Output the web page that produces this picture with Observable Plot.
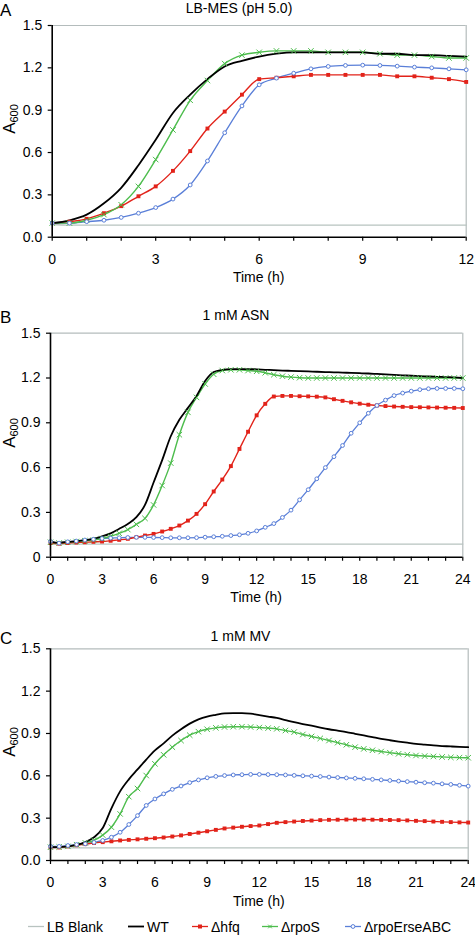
<!DOCTYPE html>
<html><head><meta charset="utf-8">
<script src="https://cdn.jsdelivr.net/npm/d3@7"></script>
<script src="https://cdn.jsdelivr.net/npm/@observablehq/plot@0.6"></script>
<style>
body{margin:0;background:#fff;font-family:"Liberation Sans",Arial,Helvetica,sans-serif;color:#000;}
#root{position:relative;width:475px;height:935px;overflow:hidden;}
.abs{position:absolute;white-space:nowrap;line-height:1;}
.panel{position:absolute;left:0;}
.ttl{font-size:14px;transform:translate(-50%,-50%);}
.let{font-size:17px;transform:translateY(-50%);}
.xl{font-size:14px;transform:translate(-50%,-50%);}
.yl{font-size:17px;transform:translate(-50%,-50%) rotate(-90deg);}
.yl sub{font-size:11px;vertical-align:-3px;}
.leg{font-size:14px;display:flex;align-items:center;transform:translateY(-50%);}
.leg svg{margin-right:3px;}
</style></head><body><div id="root"></div><script>
// ---------- categories / series names ----------
const seriesNames = ["LB Blank", "WT", "\u0394hfq", "\u0394rpoS", "\u0394rpoErseABC"];
const panelTitles = ["LB-MES (pH 5.0)", "1 mM ASN", "1 mM MV"];
const panelLetters = ["A", "B", "C"];

// ---------- tick labels ----------
const yTicks = [0, 0.3, 0.6, 0.9, 1.2, 1.5];
const xTicksA = [0,1,2,3,4,5,6,7,8,9,10,11,12];
const xTicksBC = [0,1,2,3,4,5,6,7,8,9,10,11,12,13,14,15,16,17,18,19,20,21,22,23,24];

// ---------- time points (h) ----------
const timesA = [0,0.5,1,1.5,2,2.5,3,3.5,4,4.5,5,5.5,6,6.5,7,7.5,8,8.5,9,9.5,10,10.5,11,11.5,12];
const timesBC = [0,0.5,1,1.5,2,2.5,3,3.5,4,4.5,5,5.5,6,6.5,7,7.5,8,8.5,9,9.5,10,10.5,11,11.5,12,
  12.5,13,13.5,14,14.5,15,15.5,16,16.5,17,17.5,18,18.5,19,19.5,20,20.5,21,21.5,22,22.5,23,23.5,24];

// ---------- Panel A: LB-MES (pH 5.0) ----------
const blankA = [0.09,0.085,0.085,0.085,0.085,0.085,0.085,0.085,0.085,0.085,0.085,0.085,0.085,0.085,0.085,0.085,0.085,0.085,0.085,0.085,0.085,0.085,0.085,0.085,0.085];
const wtA   = [0.10,0.12,0.16,0.24,0.35,0.51,0.69,0.88,1.01,1.12,1.21,1.25,1.28,1.30,1.31,1.31,1.31,1.31,1.31,1.30,1.30,1.29,1.29,1.285,1.28];
const hfqA  = [0.10,0.11,0.13,0.17,0.22,0.29,0.36,0.47,0.61,0.77,0.89,1.01,1.12,1.13,1.14,1.15,1.15,1.15,1.15,1.15,1.14,1.14,1.13,1.12,1.10];
const rpoSA = [0.10,0.10,0.12,0.16,0.23,0.36,0.55,0.76,0.97,1.11,1.23,1.29,1.31,1.32,1.32,1.32,1.31,1.31,1.31,1.30,1.29,1.29,1.28,1.27,1.27];
const erseA = [0.10,0.10,0.11,0.12,0.14,0.17,0.21,0.27,0.37,0.54,0.74,0.93,1.08,1.127,1.162,1.193,1.21,1.217,1.219,1.217,1.212,1.205,1.20,1.193,1.186];

// ---------- Panel B: 1 mM ASN ----------
const blankB = [0.088,0.088,0.088,0.088,0.088,0.088,0.088,0.088,0.088,0.088,0.088,0.088,0.088,0.088,0.088,0.088,0.088,0.088,0.088,0.088,0.088,0.088,0.088,0.088,0.088,
  0.088,0.088,0.088,0.088,0.088,0.088,0.088,0.088,0.088,0.088,0.088,0.088,0.088,0.088,0.088,0.088,0.088,0.088,0.088,0.088,0.088,0.088,0.088,0.088];
const wtB   = [0.105,0.097,0.103,0.107,0.114,0.125,0.14,0.16,0.19,0.223,0.268,0.35,0.50,0.65,0.81,0.92,1.00,1.08,1.18,1.24,1.255,1.26,1.26,1.26,1.258,
  1.255,1.253,1.25,1.248,1.246,1.244,1.242,1.24,1.238,1.236,1.234,1.232,1.23,1.227,1.224,1.221,1.218,1.215,1.213,1.21,1.208,1.206,1.204,1.20];
const hfqB  = [0.095,0.09,0.095,0.098,0.10,0.103,0.105,0.11,0.116,0.123,0.134,0.145,0.156,0.172,0.19,0.212,0.245,0.29,0.355,0.44,0.52,0.61,0.725,0.84,0.95,
  1.027,1.076,1.08,1.08,1.078,1.077,1.075,1.07,1.058,1.047,1.037,1.028,1.021,1.016,1.012,1.009,1.007,1.005,1.004,1.003,1.002,1.001,1.0,0.999];
const rpoSB = [0.10,0.095,0.10,0.105,0.11,0.115,0.125,0.14,0.16,0.185,0.22,0.26,0.35,0.48,0.63,0.82,0.97,1.07,1.16,1.225,1.25,1.255,1.255,1.25,1.245,
  1.235,1.222,1.212,1.206,1.202,1.20,1.20,1.20,1.20,1.20,1.20,1.20,1.20,1.20,1.20,1.20,1.20,1.20,1.20,1.20,1.20,1.20,1.20,1.20];
const erseB = [0.105,0.094,0.103,0.108,0.115,0.12,0.125,0.128,0.13,0.132,0.133,0.133,0.132,0.131,0.13,0.13,0.13,0.131,0.134,0.137,0.14,0.145,0.15,0.16,0.176,
  0.20,0.225,0.266,0.315,0.384,0.452,0.525,0.60,0.673,0.748,0.83,0.90,0.964,1.016,1.052,1.082,1.099,1.112,1.122,1.128,1.13,1.13,1.13,1.128];

// ---------- Panel C: 1 mM MV ----------
const blankC = [0.09,0.09,0.09,0.09,0.09,0.09,0.09,0.09,0.09,0.09,0.09,0.09,0.09,0.09,0.09,0.09,0.09,0.09,0.09,0.09,0.09,0.09,0.09,0.09,0.09,
  0.09,0.09,0.09,0.09,0.09,0.09,0.09,0.09,0.09,0.09,0.09,0.09,0.09,0.09,0.09,0.09,0.09,0.09,0.09,0.09,0.09,0.09,0.09,0.09];
const wtC   = [0.094,0.096,0.10,0.11,0.13,0.165,0.23,0.37,0.49,0.575,0.645,0.715,0.78,0.83,0.885,0.93,0.97,1.0,1.02,1.032,1.042,1.044,1.044,1.04,1.03,
  1.02,1.01,0.995,0.98,0.967,0.955,0.942,0.93,0.92,0.91,0.898,0.886,0.874,0.862,0.852,0.843,0.835,0.827,0.821,0.815,0.811,0.808,0.805,0.803];
const hfqC  = [0.094,0.092,0.10,0.108,0.116,0.124,0.13,0.136,0.142,0.146,0.15,0.154,0.158,0.163,0.17,0.178,0.188,0.197,0.207,0.217,0.227,0.233,0.239,0.244,0.248,
  0.258,0.267,0.272,0.276,0.28,0.283,0.286,0.288,0.289,0.29,0.29,0.29,0.289,0.288,0.287,0.286,0.284,0.281,0.279,0.276,0.274,0.272,0.27,0.269];
const rpoSC = [0.094,0.096,0.10,0.112,0.125,0.143,0.18,0.236,0.33,0.452,0.51,0.602,0.685,0.749,0.803,0.85,0.888,0.913,0.93,0.94,0.946,0.948,0.948,0.946,0.942,
  0.938,0.933,0.921,0.91,0.893,0.879,0.865,0.85,0.835,0.82,0.803,0.791,0.781,0.772,0.764,0.756,0.75,0.744,0.74,0.737,0.734,0.731,0.729,0.728];
const erseC = [0.10,0.10,0.106,0.113,0.118,0.128,0.142,0.165,0.20,0.255,0.318,0.39,0.436,0.472,0.504,0.528,0.552,0.571,0.586,0.596,0.602,0.606,0.608,0.61,0.61,
  0.609,0.608,0.606,0.603,0.6,0.598,0.595,0.591,0.588,0.585,0.582,0.579,0.575,0.571,0.567,0.563,0.559,0.555,0.551,0.548,0.543,0.539,0.533,0.527];

// ---------- styles ----------
const FONT = '"Liberation Sans", Arial, Helvetica, sans-serif';
const C = {blank: "#b8c3c0", wt: "#000000", hfq: "#e2231a", rpoS: "#4dbd4d", erse: "#5a7fd8"};
const FRAME = "#b4bcbc";

const root = document.getElementById("root");
function addDiv(cls, html, left, top) {
  const d = document.createElement("div");
  d.className = "abs " + cls;
  d.innerHTML = html;
  d.style.left = left + "px";
  d.style.top = top + "px";
  root.appendChild(d);
  return d;
}

function makePanel(cfg) {
  const {times, blank, wt, hfq, rpoS, erse, xMax, xTicks, yFmt, top, height, mt, mb, ml, mr, idx} = cfg;
  const curve = "monotone-x";
  const chart = Plot.plot({
    width: 475, height,
    marginTop: mt, marginBottom: mb, marginLeft: ml, marginRight: mr,
    style: {fontFamily: FONT, fontSize: "14px", color: "#000", background: "transparent", overflow: "visible"},
    x: {domain: [0, xMax]},
    y: {domain: [0, 1.5]},
    marks: [
      Plot.ruleY([1.5], {stroke: FRAME, strokeWidth: 1.2}),
      Plot.ruleX([xMax], {stroke: FRAME, strokeWidth: 1.2}),
      Plot.axisY({ticks: yTicks, tickFormat: yFmt, tickSize: 4, tickPadding: 6, label: null, stroke: "#000", strokeWidth: 1.2}),
      Plot.axisX({ticks: xTicks, tickFormat: d => (d % 3 === 0 ? String(d) : ""), tickSize: 4, tickPadding: 12.5, label: null, stroke: "#000", strokeWidth: 1.2}),
      Plot.line(times, {x: times, y: blank, stroke: C.blank, strokeWidth: 1.3, curve}),
      Plot.line(times, {x: times, y: erse, stroke: C.erse, strokeWidth: 1.3, curve}),
      Plot.line(times, {x: times, y: hfq, stroke: C.hfq, strokeWidth: 1.4, curve}),
      Plot.line(times, {x: times, y: rpoS, stroke: C.rpoS, strokeWidth: 1.4, curve}),
      Plot.line(times, {x: times, y: wt, stroke: C.wt, strokeWidth: 1.8, curve}),
      Plot.dot(times, {x: times, y: hfq, symbol: "square", fill: C.hfq, r: 2.2}),
      Plot.dot(times, {x: times, y: rpoS, symbol: "times", stroke: C.rpoS, strokeWidth: 1, r: 2.6}),
      Plot.dot(times, {x: times, y: erse, symbol: "circle", fill: "#fff", stroke: C.erse, strokeWidth: 1, r: 1.9}),
      Plot.ruleX([0], {stroke: "#000", strokeWidth: 1.6}),
      Plot.ruleY([0], {stroke: "#000", strokeWidth: 1.6})
    ]
  });
  const wrap = document.createElement("div");
  wrap.className = "panel";
  wrap.style.top = top + "px";
  wrap.appendChild(chart);
  root.appendChild(wrap);
  // text around the panel
  const plotTop = top + mt, plotBottom = top + height - mb;
  const cx = (ml + 475 - mr) / 2;
  addDiv("ttl", panelTitles[idx], cfg.titleX, cfg.titleY);
  addDiv("let", panelLetters[idx], 0, cfg.letterY);
  addDiv("xl", "Time (h)", cx, plotBottom + 40.5);
  addDiv("yl", "A<sub>600</sub>", 10, (plotTop + plotBottom) / 2 - 12);
}

const f1 = d => d.toFixed(1);
const fB = d => (d === 0 ? "0" : d.toFixed(1));

makePanel({idx: 0, times: timesA, blank: blankA, wt: wtA, hfq: hfqA, rpoS: rpoSA, erse: erseA,
  xMax: 12, xTicks: xTicksA, yFmt: f1, top: 0, height: 300, mt: 25, mb: 63.3, ml: 51.7, mr: 9.3,
  titleX: 239, titleY: 8, letterY: 9.5});
makePanel({idx: 1, times: timesBC, blank: blankB, wt: wtB, hfq: hfqB, rpoS: rpoSB, erse: erseB,
  xMax: 24, xTicks: xTicksBC, yFmt: fB, top: 300, height: 310, mt: 32.7, mb: 53.3, ml: 50, mr: 12.7,
  titleX: 236, titleY: 315, letterY: 316.5});
makePanel({idx: 2, times: timesBC, blank: blankC, wt: wtC, hfq: hfqC, rpoS: rpoSC, erse: erseC,
  xMax: 24, xTicks: xTicksBC, yFmt: f1, top: 610, height: 300, mt: 38.3, mb: 50, ml: 50, mr: 7.3,
  titleX: 240.5, titleY: 636, letterY: 638});

// ---------- legend ----------
const legendX = [28, 128, 192, 262, 345];
const legendKeys = ["blank", "wt", "hfq", "rpoS", "erse"];
function swatch(key) {
  const col = C[key];
  const sw = key === "wt" ? 1.8 : 1.3;
  let m = "";
  if (key === "hfq") m = `<rect x="6" y="3.5" width="4" height="4" fill="${col}"/>`;
  if (key === "rpoS") m = `<path d="M6.2 3.7 L9.8 7.3 M9.8 3.7 L6.2 7.3" stroke="${col}" stroke-width="1"/>`;
  if (key === "erse") m = `<circle cx="8" cy="5.5" r="1.9" fill="#fff" stroke="${col}" stroke-width="1"/>`;
  return `<svg width="16" height="11" viewBox="0 0 16 11"><line x1="0" y1="5.5" x2="16" y2="5.5" stroke="${col}" stroke-width="${sw}"/>${m}</svg>`;
}
legendKeys.forEach((k, i) => {
  addDiv("leg", swatch(k) + `<span>${seriesNames[i]}</span>`, legendX[i], 926.5);
});
</script></body></html>
